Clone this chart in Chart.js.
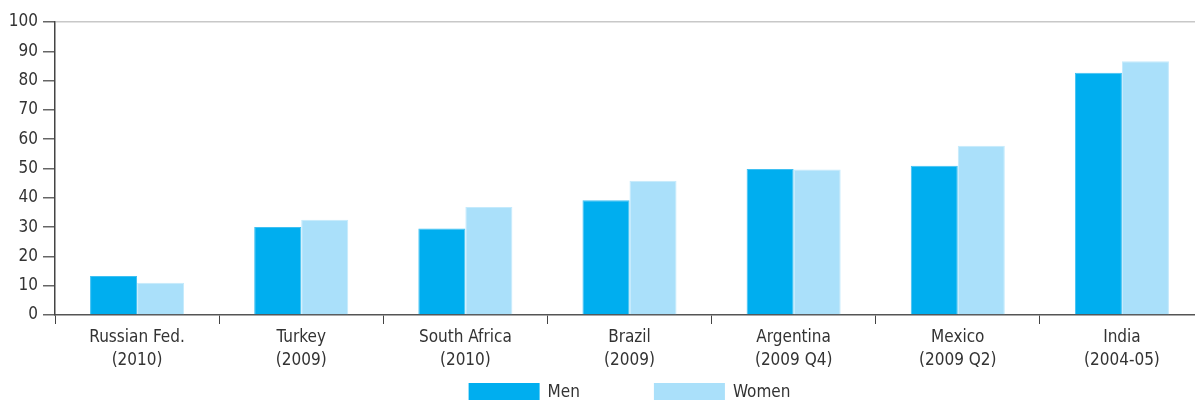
<!DOCTYPE html>
<html><head><meta charset="utf-8">
<script src="https://cdn.jsdelivr.net/npm/chart.js@4.4.1/dist/chart.umd.min.js"></script>
<style>
html,body{margin:0;padding:0;background:#fff;overflow:hidden;width:1195px;height:401px;}
#wrap{position:relative;width:1204px;height:401px;}
</style></head><body>
<div id="wrap"><canvas id="c"></canvas></div>
<script>
const categories = [["Russian Fed.","(2010)"],["Turkey","(2009)"],["South Africa","(2010)"],["Brazil","(2009)"],["Argentina","(2009 Q4)"],["Mexico","(2009 Q2)"],["India","(2004-05)"]];
const men = [13.3, 30.0, 29.5, 39.2, 49.8, 50.9, 82.7];
const women = [11.0, 32.5, 36.9, 45.8, 49.7, 57.8, 86.6];
const yTicks = [0,10,20,30,40,50,60,70,80,90,100];
const FONT = "'Liberation Sans Narrow','DejaVu Sans Condensed','Liberation Sans',sans-serif";
const FS = 17;

const bottomLegend = {
  id: 'bottomLegend',
  afterDraw(chart) {
    const ctx = chart.ctx, ca = chart.chartArea;
    const boxW = 71, boxH = 17, textGap = 8, itemGap = 74;
    ctx.save();
    ctx.font = FS + 'px ' + FONT;
    const items = chart.data.datasets.map(d => ({label: d.label, color: d.backgroundColor, w: boxW + textGap + ctx.measureText(d.label).width}));
    const total = items.reduce((a, it) => a + it.w, 0) + itemGap * (items.length - 1);
    let x = (ca.left + ca.right) / 2 - total / 2;
    const top = ca.bottom + 68;
    items.forEach(it => {
      ctx.fillStyle = it.color;
      ctx.fillRect(x, top, boxW, boxH);
      ctx.fillStyle = '#333';
      ctx.textBaseline = 'middle';
      ctx.textAlign = 'left';
      ctx.fillText(it.label, x + boxW + textGap, top + boxH / 2 + 1);
      x += it.w + itemGap;
    });
    ctx.restore();
  }
};

new Chart(document.getElementById('c'), {
  type: 'bar',
  data: {
    labels: categories,
    datasets: [
      {label: 'Men', data: men, backgroundColor: '#00AEEF', borderColor: '#3fc0f2', borderWidth: 1, barPercentage: 1, categoryPercentage: 0.573},
      {label: 'Women', data: women, backgroundColor: '#AAE0FA', borderColor: '#c4eafc', borderWidth: 1, barPercentage: 1, categoryPercentage: 0.573}
    ]
  },
  plugins: [bottomLegend],
  options: {
    responsive: true, maintainAspectRatio: false, animation: false,
    layout: {padding: {top: 22, right: 0, left: 0, bottom: 0}},
    plugins: {
      legend: {display: false},
      tooltip: {enabled: false}
    },
    scales: {
      x: {
        grid: {offset: true, drawOnChartArea: false, tickLength: 9, color: '#444', lineWidth: 1},
        border: {color: '#555', width: 1.5},
        ticks: {color: '#333', font: {family: FONT, size: FS, lineHeight: 1.35}, padding: 2, maxRotation: 0, autoSkip: false},
        afterFit(s){ s.height = 86; }
      },
      y: {
        min: 0, max: 100,
        afterBuildTicks(s){ s.ticks = yTicks.map(v => ({value: v})); },
        grid: {drawOnChartArea: true, tickLength: 12, color: ctx => ctx.tick && ctx.tick.value === 100 ? '#c8c8c8' : 'rgba(0,0,0,0)', tickColor: '#666', lineWidth: 1.5},
        border: {color: '#444', width: 1.5},
        ticks: {color: '#333', font: {family: FONT, size: FS}, padding: 5},
        afterFit(s){ s.width = 55; }
      }
    }
  }
});
</script>
</body></html>
